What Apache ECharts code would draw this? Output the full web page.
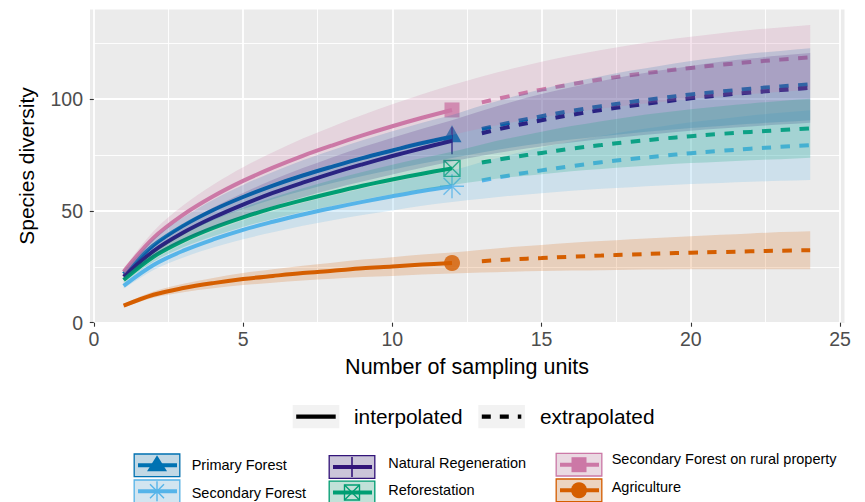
<!DOCTYPE html>
<html>
<head>
<meta charset="utf-8">
<script src="https://cdn.jsdelivr.net/npm/echarts@6/dist/echarts.min.js"></script>
<style>
  html, body { margin: 0; padding: 0; background: #ffffff; }
  #chart { width: 865px; height: 502px; }
</style>
</head>
<body>
<div id="chart"></div>
<script>
// Sampling-unit knots: 1..12 interpolated, 13..24 extrapolated
const sampleUnits = [1, 2, 3, 4, 5, 6, 7, 8, 9, 10, 11, 12, 13, 14, 15, 16, 17, 18, 19, 20, 21, 22, 23, 24];
const observedUnits = 12;

const xTicks = [0, 5, 10, 15, 20, 25];
const yTicks = [0, 50, 100];

// Primary Forest
const pfMean  = [21.8, 34.6, 43.4, 50.4, 56.2, 61.3, 65.8, 69.8, 73.6, 77.0, 80.3, 83.2, 86.6, 89.6, 92.3, 94.7, 96.8, 98.7, 100.4, 102.0, 103.3, 104.6, 105.6, 106.6];
const pfLower = [20.3, 31.9, 39.7, 45.8, 50.8, 55.2, 59.0, 62.4, 65.6, 68.4, 71.2, 73.6, 76.1, 78.3, 80.2, 81.9, 83.4, 84.7, 85.9, 87.0, 87.9, 88.9, 89.7, 90.5];
const pfUpper = [23.3, 37.3, 47.1, 55.0, 61.6, 67.4, 72.6, 77.2, 81.6, 85.6, 89.4, 92.8, 97.1, 100.9, 104.4, 107.5, 110.2, 112.7, 114.9, 117.0, 118.7, 120.3, 121.5, 122.7];

// Secondary Forest
const sfMean  = [16.5, 25.8, 32.2, 37.2, 41.5, 45.1, 48.4, 51.3, 54.0, 56.5, 58.9, 61.0, 63.6, 66.0, 68.1, 70.0, 71.7, 73.2, 74.5, 75.8, 76.8, 77.8, 78.6, 79.4];
const sfLower = [15.3, 23.6, 29.2, 33.6, 37.3, 40.4, 43.3, 45.8, 48.1, 50.2, 52.3, 54.0, 55.4, 56.8, 57.9, 59.0, 59.9, 60.6, 61.3, 62.0, 62.5, 63.0, 63.4, 63.8];
const sfUpper = [17.7, 28.0, 35.2, 40.8, 45.7, 49.8, 53.5, 56.8, 59.9, 62.8, 65.5, 68.0, 71.8, 75.2, 78.3, 81.0, 83.5, 85.8, 87.7, 89.6, 91.1, 92.6, 93.8, 95.0];

// Natural Regeneration
const nrMean  = [20.6, 32.0, 40.3, 47.0, 52.8, 58.0, 62.6, 66.9, 70.8, 74.5, 78.0, 81.3, 84.7, 87.8, 90.5, 92.9, 95.1, 97.0, 98.7, 100.3, 101.7, 102.9, 104.0, 105.0];
const nrLower = [19.2, 29.4, 36.7, 42.5, 47.6, 52.1, 56.1, 59.8, 63.1, 66.3, 69.3, 72.1, 74.6, 76.9, 78.8, 80.5, 82.1, 83.4, 84.6, 85.8, 86.8, 87.7, 88.6, 89.4];
const nrUpper = [22.0, 34.6, 43.9, 51.5, 58.0, 63.9, 69.1, 74.0, 78.5, 82.7, 86.7, 90.5, 94.8, 98.7, 102.2, 105.3, 108.1, 110.6, 112.8, 114.8, 116.6, 118.1, 119.4, 120.6];

// Reforestation
const rfMean  = [19.1, 29.5, 36.7, 42.4, 47.1, 51.2, 54.8, 58.1, 61.2, 64.0, 66.6, 69.0, 71.6, 73.9, 75.9, 77.8, 79.4, 80.9, 82.2, 83.4, 84.4, 85.3, 86.1, 86.9];
const rfLower = [17.9, 27.3, 33.7, 38.7, 42.8, 46.4, 49.5, 52.3, 55.0, 57.4, 59.6, 61.6, 63.5, 65.1, 66.4, 67.7, 68.7, 69.7, 70.6, 71.4, 72.0, 72.6, 73.1, 73.7];
const rfUpper = [20.3, 31.7, 39.7, 46.1, 51.4, 56.0, 60.1, 63.9, 67.4, 70.6, 73.6, 76.4, 79.7, 82.7, 85.4, 87.9, 90.1, 92.1, 93.8, 95.4, 96.8, 98.0, 99.1, 100.1];

// Secondary Forest on rural property
const srMean  = [22.8, 37.9, 48.3, 56.5, 63.4, 69.3, 74.6, 79.3, 83.7, 87.8, 91.6, 95.1, 98.5, 101.5, 104.2, 106.6, 108.8, 110.7, 112.4, 113.9, 115.3, 116.5, 117.6, 118.6];
const srLower = [21.2, 34.9, 44.1, 51.3, 57.3, 62.4, 66.9, 70.9, 74.6, 78.0, 81.1, 83.9, 86.9, 89.5, 91.8, 93.8, 95.7, 97.3, 98.7, 100.0, 101.2, 102.2, 103.2, 104.1];
const srUpper = [24.4, 40.9, 52.5, 61.7, 69.5, 76.2, 82.3, 87.7, 92.8, 97.6, 102.1, 106.3, 110.1, 113.5, 116.6, 119.4, 121.9, 124.1, 126.1, 127.8, 129.4, 130.8, 132.0, 133.1];

// Agriculture
const agMean  = [7.6, 12.5, 15.5, 17.7, 19.5, 20.9, 22.2, 23.2, 24.3, 25.1, 26.0, 26.7, 27.5, 28.3, 28.9, 29.5, 30.0, 30.5, 30.9, 31.3, 31.6, 31.9, 32.2, 32.4];
const agLower = [6.8, 11.1, 13.6, 15.4, 16.8, 17.9, 18.9, 19.6, 20.4, 20.9, 21.5, 22.0, 22.4, 22.8, 23.1, 23.3, 23.5, 23.7, 23.8, 23.9, 23.9, 23.9, 23.9, 23.9];
const agUpper = [8.4, 13.9, 17.4, 20.0, 22.2, 23.9, 25.5, 26.8, 28.2, 29.3, 30.5, 31.4, 32.6, 33.8, 34.7, 35.7, 36.5, 37.3, 38.0, 38.7, 39.3, 39.9, 40.5, 40.9];

const groupNames  = ['Primary Forest', 'Secondary Forest', 'Natural Regeneration', 'Reforestation', 'Secondary Forest on rural property', 'Agriculture'];
const groupColors = ['#0072B2', '#56B4E9', '#33147A', '#009E73', '#CC79A7', '#D55E00'];
const groupShapes = ['triangle', 'asterisk', 'bar', 'boxcross', 'square', 'circle'];
const lineTypeNames = ['interpolated', 'extrapolated'];

const groupMeans  = [pfMean, sfMean, nrMean, rfMean, srMean, agMean];
const groupLowers = [pfLower, sfLower, nrLower, rfLower, srLower, agLower];
const groupUppers = [pfUpper, sfUpper, nrUpper, rfUpper, srUpper, agUpper];

const FONT = '"Liberation Sans", Arial, Helvetica, sans-serif';
const SMOOTH = 0.35;

function withAlpha(hex, a) {
  const n = parseInt(hex.slice(1), 16);
  return 'rgba(' + ((n >> 16) & 255) + ',' + ((n >> 8) & 255) + ',' + (n & 255) + ',' + a + ')';
}

// Cubic (Catmull-Rom style) path through pixel points; `move` starts a new subpath
function curveThrough(pts, move) {
  const n = pts.length;
  const tan = pts.map((p, i) => {
    const a = pts[Math.max(i - 1, 0)], b = pts[Math.min(i + 1, n - 1)];
    const span = (i === 0 || i === n - 1) ? 1 : 2;
    return [(b[0] - a[0]) / span, (b[1] - a[1]) / span];
  });
  let d = (move ? 'M' : 'L') + pts[0][0].toFixed(2) + ',' + pts[0][1].toFixed(2);
  for (let i = 0; i < n - 1; i++) {
    const p = pts[i], q = pts[i + 1];
    const c1 = [p[0] + tan[i][0] / 3, p[1] + tan[i][1] / 3];
    const c2 = [q[0] - tan[i + 1][0] / 3, q[1] - tan[i + 1][1] / 3];
    d += 'C' + c1[0].toFixed(2) + ',' + c1[1].toFixed(2) + ' ' + c2[0].toFixed(2) + ',' + c2[1].toFixed(2) +
         ' ' + q[0].toFixed(2) + ',' + q[1].toFixed(2);
  }
  return d;
}

// Scatter symbols for the observed point of each habitat
const symbolDefs = {
  triangle: { symbol: 'triangle', size: [19, 17], offset: [0, -2.8], filled: true },
  asterisk: { symbol: 'path://M0,-1.414L0,1.414M-1.414,0L1.414,0M-1,-1L1,1M-1,1L1,-1', size: 24, filled: false },
  bar:      { symbol: 'rect', size: [1.6, 27], filled: true },
  boxcross: { symbol: 'path://M-1,-1L1,-1L1,1L-1,1ZM-1,-1L1,1M-1,1L1,-1', size: 16, filled: false },
  square:   { symbol: 'rect', size: 15, filled: true },
  circle:   { symbol: 'circle', size: 16, filled: true }
};

const series = [];
const obsIndex = sampleUnits.indexOf(observedUnits);

groupNames.forEach((name, g) => {
  const color = groupColors[g];
  const mean = groupMeans[g];
  const def = symbolDefs[groupShapes[g]];

  // observed point
  series.push({
    type: 'scatter', name: name + ' observed', z: 2, silent: true,
    symbol: def.symbol, symbolSize: def.size, symbolOffset: def.offset || [0, 0],
    itemStyle: def.filled
      ? { color: color, borderWidth: 0 }
      : { color: 'rgba(0,0,0,0)', borderColor: color, borderWidth: 1.4 },
    data: [[observedUnits, mean[obsIndex]]]
  });

  // interpolated part (solid)
  series.push({
    type: 'line', name: name + ' interpolated', z: 3, silent: true,
    showSymbol: false, symbol: 'none', smooth: SMOOTH,
    lineStyle: { color: color, width: 4, cap: 'butt', join: 'round' },
    data: sampleUnits.filter(u => u <= observedUnits).map(u => [u, mean[sampleUnits.indexOf(u)]])
  });

  // extrapolated part (dashed)
  series.push({
    type: 'line', name: name + ' extrapolated', z: 3, silent: true,
    showSymbol: false, symbol: 'none', smooth: SMOOTH,
    lineStyle: { color: color, width: 4, type: [9.4, 9.4], cap: 'butt' },
    data: sampleUnits.filter(u => u > observedUnits).map(u => [u, mean[sampleUnits.indexOf(u)]])
  });
});

// confidence ribbons, drawn over lines and points
groupNames.forEach((name, g) => {
  const lower = groupLowers[g], upper = groupUppers[g];
  const fill = withAlpha(groupColors[g], 0.2);
  series.push({
    type: 'custom', name: name + ' ribbon', z: 4, silent: true,
    data: [[sampleUnits[0], lower[0]]],
    renderItem: function (params, api) {
      const top = sampleUnits.map((u, i) => api.coord([u, upper[i]]));
      const bottom = sampleUnits.map((u, i) => api.coord([u, lower[i]])).reverse();
      const d = curveThrough(top, true) + curveThrough(bottom, false) + 'Z';
      return { type: 'path', shape: { pathData: d }, style: { fill: fill, stroke: null } };
    }
  });
});

// ---------- legend drawn with graphic elements ----------
function markerGraphic(shape, cx, cy, color) {
  const s = { stroke: color, lineWidth: 1.4, fill: null };
  switch (shape) {
    case 'triangle':
      return [{ type: 'polygon', shape: { points: [[cx, cy - 10], [cx + 10, cy + 6], [cx - 10, cy + 6]] }, style: { fill: color } }];
    case 'asterisk':
      return [
        { type: 'line', shape: { x1: cx, y1: cy - 10, x2: cx, y2: cy + 10 }, style: s },
        { type: 'line', shape: { x1: cx - 10, y1: cy, x2: cx + 10, y2: cy }, style: s },
        { type: 'line', shape: { x1: cx - 7, y1: cy - 7, x2: cx + 7, y2: cy + 7 }, style: s },
        { type: 'line', shape: { x1: cx - 7, y1: cy + 7, x2: cx + 7, y2: cy - 7 }, style: s }
      ];
    case 'bar':
      return [{ type: 'line', shape: { x1: cx, y1: cy - 10, x2: cx, y2: cy + 10 }, style: { stroke: color, lineWidth: 1.6 } }];
    case 'boxcross':
      return [
        { type: 'rect', shape: { x: cx - 7.5, y: cy - 7.5, width: 15, height: 15 }, style: s },
        { type: 'line', shape: { x1: cx - 7.5, y1: cy - 7.5, x2: cx + 7.5, y2: cy + 7.5 }, style: s },
        { type: 'line', shape: { x1: cx - 7.5, y1: cy + 7.5, x2: cx + 7.5, y2: cy - 7.5 }, style: s }
      ];
    case 'square':
      return [{ type: 'rect', shape: { x: cx - 7.5, y: cy - 7.5, width: 15, height: 15 }, style: { fill: color } }];
    default:
      return [{ type: 'circle', shape: { cx: cx, cy: cy, r: 8 }, style: { fill: color } }];
  }
}

function textEl(x, y, text, size, fill, align, extra) {
  return Object.assign({
    type: 'text', x: x, y: y,
    style: { text: text, font: size + 'px ' + FONT, fontSize: size, fontFamily: FONT, fill: fill,
             align: align, verticalAlign: 'middle', textAlign: align, textVerticalAlign: 'middle' }
  }, extra || {});
}

const graphics = [];

// panel background
graphics.push({ type: 'rect', z: -10, silent: true, shape: { x: 90, y: 9.5, width: 754.5, height: 313.5 }, style: { fill: '#EBEBEB' } });

// axis titles
graphics.push(textEl(26.5, 166, 'Species diversity', 21, '#000000', 'center', { rotation: Math.PI / 2 }));
graphics.push(textEl(467, 366.5, 'Number of sampling units', 21.5, '#000000', 'center'));

// line-type legend
const ltKeys = [{ x: 292.7, textX: 354, dash: null }, { x: 478.3, textX: 540, dash: [9, 9] }];
ltKeys.forEach((k, i) => {
  graphics.push({ type: 'rect', shape: { x: k.x, y: 405, width: 46.6, height: 23.3 }, style: { fill: '#F2F2F2' } });
  graphics.push({ type: 'line', shape: { x1: k.x + 3.5, y1: 416.7, x2: k.x + 43, y2: 416.7 },
                  style: { stroke: '#000000', lineWidth: 4.2, lineCap: 'butt', lineDash: k.dash } });
  graphics.push(textEl(k.textX, 416.5, lineTypeNames[i], 20.8, '#000000', 'left'));
});

// habitat legend: 3 columns x 2 rows, filled column-wise
const keyCols = [
  { x: 133.5, textX: 191.7, tops: [453.3, 479.3], textY: [465, 492.5] },
  { x: 328.5, textX: 388.3, tops: [455, 480.5], textY: [463, 490] },
  { x: 555.5, textX: 611.7, tops: [452.7, 478.3], textY: [459.3, 487] }
];
groupNames.forEach((name, g) => {
  const col = keyCols[Math.floor(g / 2)], row = g % 2;
  const color = groupColors[g];
  const kx = col.x, ky = col.tops[row], kw = 47, kh = 24;
  const cx = kx + kw / 2, cy = ky + kh / 2;
  graphics.push({ type: 'rect', shape: { x: kx, y: ky, width: kw, height: kh }, style: { fill: '#F2F2F2' } });
  markerGraphic(groupShapes[g], cx, cy, color).forEach(el => graphics.push(el));
  graphics.push({ type: 'line', shape: { x1: kx + 4.5, y1: cy, x2: kx + kw - 3.5, y2: cy },
                  style: { stroke: color, lineWidth: 4, lineCap: 'butt' } });
  graphics.push({ type: 'rect', shape: { x: kx + 0.7, y: ky + 0.7, width: kw - 1.4, height: kh - 1.4 },
                  style: { fill: withAlpha(color, 0.2), stroke: color, lineWidth: 1.3 } });
  graphics.push(textEl(col.textX, col.textY[row], name, 14.5, '#000000', 'left'));
});

const chart = echarts.init(document.getElementById('chart'), null, { renderer: 'svg' });
chart.setOption({
  animation: false,
  backgroundColor: '#ffffff',
  textStyle: { fontFamily: FONT },
  grid: { left: 93.8, right: 24.95, top: -12.85, bottom: 179.3, containLabel: false, outerBoundsMode: 'none' },
  xAxis: {
    type: 'value', min: xTicks[0], max: xTicks[xTicks.length - 1], interval: 5,
    axisLine: { show: false },
    axisTick: { show: true, length: 4, lineStyle: { color: '#333333', width: 1.1 } },
    axisLabel: { margin: 6.5, fontSize: 19.5, color: '#4D4D4D', fontFamily: FONT },
    splitLine: { show: true, lineStyle: { color: '#ffffff', width: 1.8 } },
    minorTick: { show: false, splitNumber: 2 },
    minorSplitLine: { show: true, lineStyle: { color: '#ffffff', width: 0.9 } }
  },
  yAxis: [
    {
      type: 'value', min: yTicks[0], max: 150, interval: 50, offset: 3.8,
      axisLine: { show: false },
      axisTick: { show: true, length: 4, lineStyle: { color: '#333333', width: 1.1 } },
      axisLabel: { margin: 7, fontSize: 19.5, color: '#4D4D4D', fontFamily: FONT, showMaxLabel: false },
      splitLine: { show: true, lineStyle: { color: '#ffffff', width: 1.8 } }
    },
    {
      type: 'value', min: 0, max: 150, interval: 25,
      axisLine: { show: false }, axisTick: { show: false }, axisLabel: { show: false },
      splitLine: { show: true, lineStyle: { color: '#ffffff', width: 0.9 } }
    }
  ],
  graphic: graphics,
  series: series
});
</script>
</body>
</html>
